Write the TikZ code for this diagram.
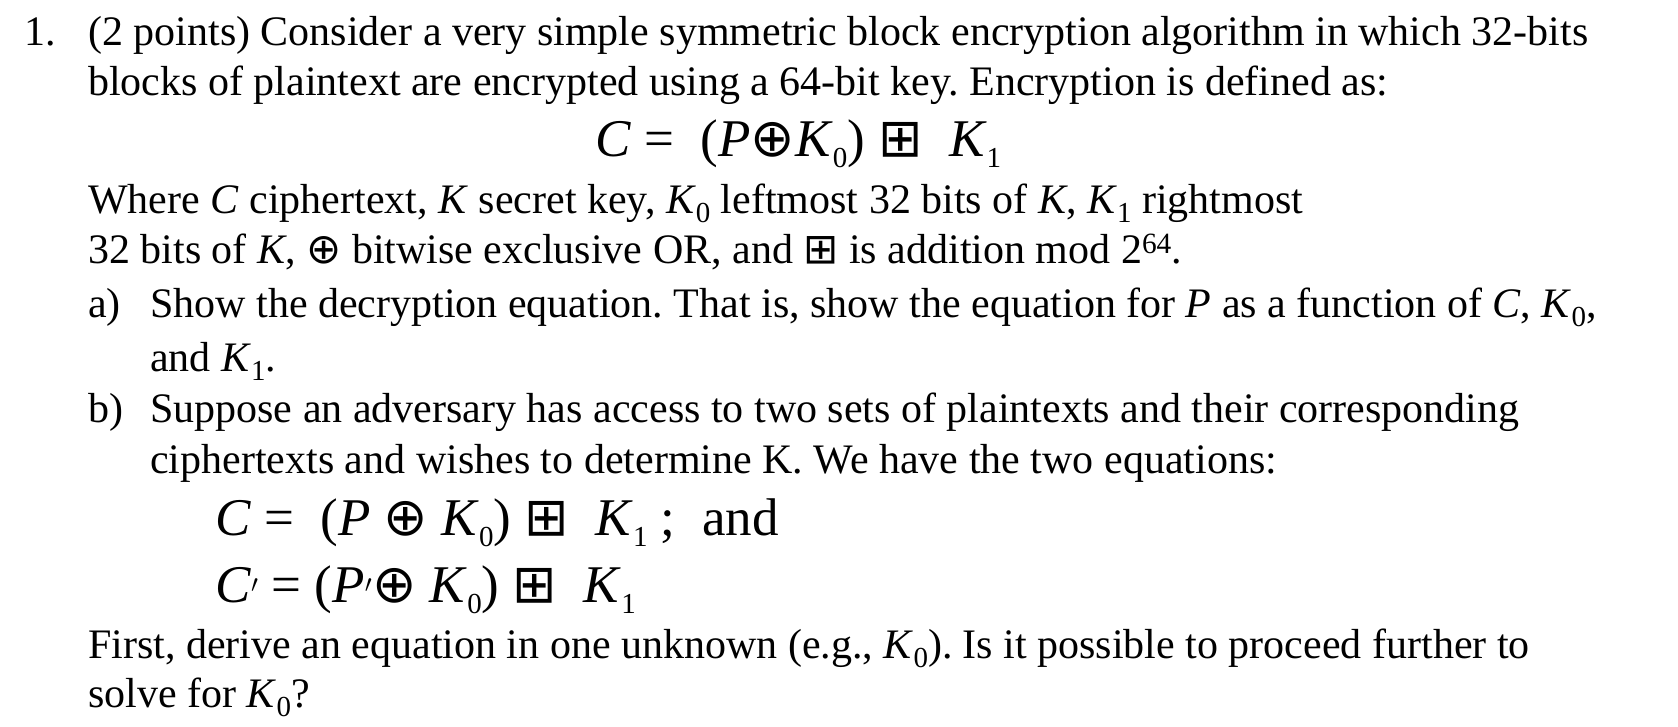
\documentclass[tikz,border=0pt]{standalone}
\usepackage{fontspec}
\setmainfont{Liberation Serif}
\newfontfamily\symf{DejaVu Sans}
\newcommand{\sbs}[1]{\raisebox{-0.22em}{\fontsize{29}{29}\selectfont #1}}
\newcommand{\Kz}{\textit{K}\sbs{0}}
\newcommand{\Ko}{\textit{K}\sbs{1}}
\newcommand{\xo}{{\symf ⊕}}
\newcommand{\bp}{{\symf ⊞}}
\begin{document}
\frenchspacing
\begin{tikzpicture}[x=1pt,y=-1pt,
  ln/.style={anchor=base west,inner sep=0pt,font=\fontsize{42}{48}\selectfont},
  eq/.style={anchor=base west,inner sep=0pt,font=\fontsize{53}{60}\selectfont}]
\useasboundingbox[fill=white] (0,0) rectangle (1678,726);
\node[ln] (n1) at (24,45) {1.};
\node[ln] (l1) at (88,45) {(2 points) Consider a very simple symmetric block encryption algorithm in which 32-bits};
\node[ln] (l2) at (88,95) {blocks of plaintext are encrypted using a 64-bit key. Encryption is defined as:};
\node[eq] (e0) at (595,156) {\textit{C} =\ \ (\textit{P}\xo\Kz) \bp\ \ \Ko};
\node[ln] (l4) at (88,213) {Where \textit{C} ciphertext, \textit{K} secret key, \Kz{} leftmost 32 bits of \textit{K}, \Ko{} rightmost};
\node[ln] (l5) at (88,263) {32 bits of \textit{K}, \xo{} bitwise exclusive OR, and \bp{} is addition mod 2\textsuperscript{64}.};
\node[ln] (la) at (88,317) {a)};
\node[ln] (l6) at (150,317) {Show the decryption equation. That is, show the equation for \textit{P} as a function of \textit{C}, \Kz,};
\node[ln] (l7) at (150,371) {and \Ko.};
\node[ln] (lb) at (88,422) {b)};
\node[ln] (l8) at (150,422) {Suppose an adversary has access to two sets of plaintexts and their corresponding};
\node[ln] (l9) at (150,473) {ciphertexts and wishes to determine K. We have the two equations:};
\node[eq] (e1) at (215,535) {\textit{C} =\ \ (\textit{P} \xo\ \Kz) \bp\ \ \Ko\ ;\ \ and};
\node[eq] (e2) at (215,602) {\textit{C}$'$ = (\textit{P}$'$\xo\ \Kz) \bp\ \ \Ko};
\node[ln] (l10) at (88,658) {First, derive an equation in one unknown (e.g., \Kz). Is it possible to proceed further to};
\node[ln] (l11) at (88,707) {solve for \Kz?};
\end{tikzpicture}
\end{document}
